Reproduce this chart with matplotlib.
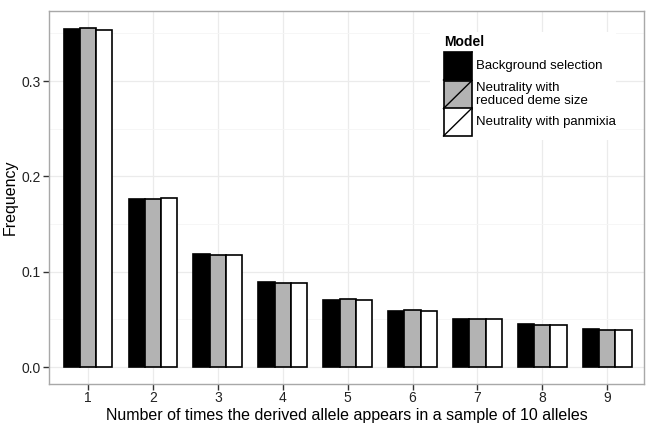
import matplotlib.pyplot as plt
from matplotlib.patches import Rectangle
from matplotlib.lines import Line2D
import numpy as np

plt.rcParams['font.family'] = ['Liberation Sans', 'DejaVu Sans']

# 데이터
counts = [1, 2, 3, 4, 5, 6, 7, 8, 9]
background = [0.3546, 0.1760, 0.1186, 0.0890, 0.0700, 0.0590, 0.0505, 0.0448, 0.0400]
reduced_deme = [0.3560, 0.1760, 0.1170, 0.0882, 0.0713, 0.0598, 0.0500, 0.0440, 0.0390]
panmixia = [0.3536, 0.1768, 0.1180, 0.0885, 0.0708, 0.0592, 0.0508, 0.0442, 0.0393]
series = ["Background selection", "Neutrality with\nreduced deme size", "Neutrality with panmixia"]
fills = ["black", "#b3b3b3", "white"]

W, H = 646, 424
fig = plt.figure(figsize=(W / 100, H / 100), dpi=100)
left, right, top, bottom = 49, 644.3, 10.7, 384
ax = fig.add_axes([left / W, 1 - bottom / H, (right - left) / W, (bottom - top) / H])

x = np.array(counts)
bw = 0.25
for i, vals in enumerate([background, reduced_deme, panmixia]):
    ax.bar(x + (i - 1) * bw, vals, width=bw, color=fills[i], edgecolor="black",
           linewidth=1.2, zorder=3)

ymax = max(max(background), max(reduced_deme), max(panmixia))
ax.set_ylim(-0.05 * ymax, 1.05 * ymax)
ax.set_xlim(0.40, 9.57)
ax.set_xticks(counts)
ax.set_yticks([0.0, 0.1, 0.2, 0.3])
ax.set_yticklabels(["0.0", "0.1", "0.2", "0.3"])
ax.set_yticks([0.05, 0.15, 0.25, 0.35], minor=True)
ax.grid(True, which="major", color="#ebebeb", linewidth=0.9, zorder=0)
ax.grid(True, which="minor", axis="y", color="#f5f5f5", linewidth=0.6, zorder=0)
ax.tick_params(axis="both", which="major", length=4, width=1, color="#333333",
               labelsize=10, labelcolor="#222222", pad=2)
ax.tick_params(axis="x", pad=1)
ax.tick_params(which="minor", length=0)
for s in ax.spines.values():
    s.set_color("#a8a8a8")
    s.set_linewidth(1)

fig.text(3 / W, (1 - (top + bottom) / 2 / H), "Frequency", fontsize=11.5,
         rotation=90, ha="left", va="center")
# x축 제목: 그림 아래 끝에 맞춰 배치
fig.text((left + right) / 2 / W, 1 / H,
         "Number of times the derived allele appears in a sample of 10 alleles",
         fontsize=11.5, ha="center", va="bottom")

# 범례
fig.patches.append(Rectangle((430 / W, 1 - 140 / H), 186 / W, 108 / H,
                             transform=fig.transFigure, facecolor="white",
                             edgecolor="none", zorder=4))
fig.text(444 / W, 1 - 42 / H, "Model", fontsize=10, fontweight="bold",
         va="center", ha="left", zorder=6)
key_tops = [52, 80.5, 108]
kh = 28
for i, kt in enumerate(key_tops):
    x0, x1 = 443.5 / W, 472 / W
    y0, y1 = 1 - (kt + kh) / H, 1 - kt / H
    fig.patches.append(Rectangle((x0, y0), x1 - x0, y1 - y0, transform=fig.transFigure,
                                 facecolor=fills[i], edgecolor="black", linewidth=1.2,
                                 zorder=5))
    fig.lines.append(Line2D([x0, x1], [y0, y1], transform=fig.transFigure,
                            color="black", linewidth=1, zorder=6))
    fig.text(476 / W, 1 - (kt + kh / 2) / H, series[i], fontsize=9.5, va="center",
             ha="left", linespacing=1.0, zorder=6)

fig.savefig("out.png", dpi=100)
